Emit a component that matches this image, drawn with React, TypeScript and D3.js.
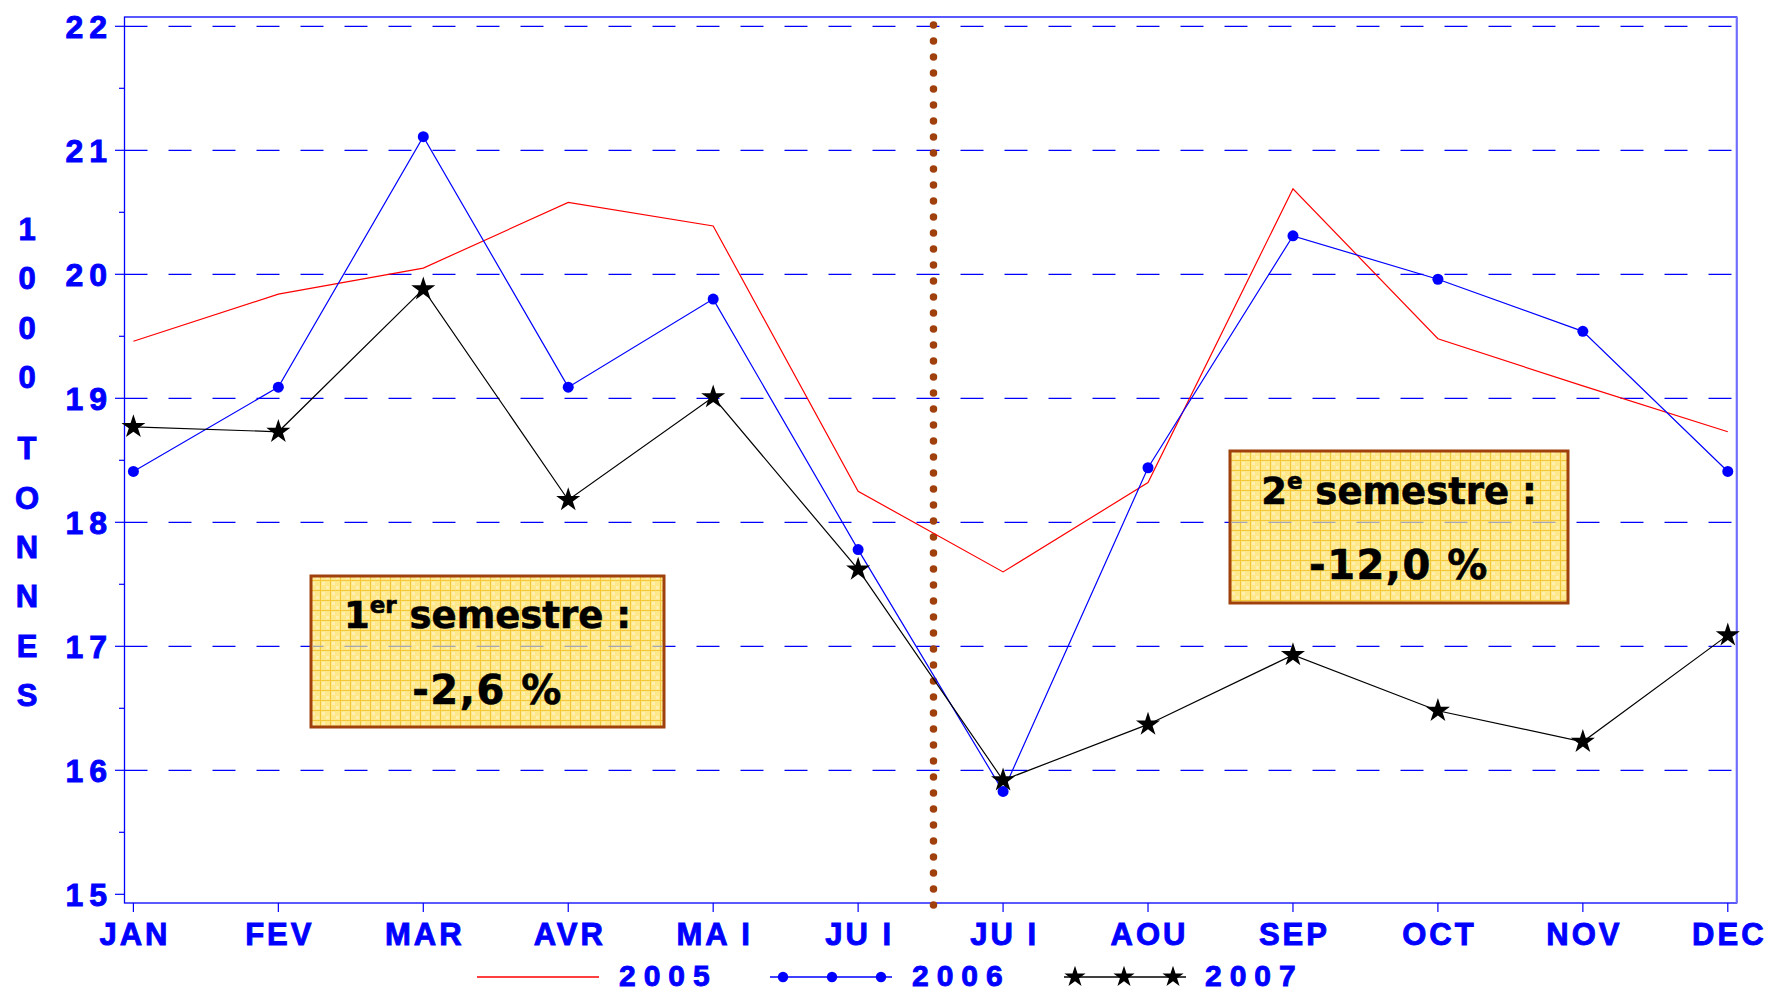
import React from 'react';
import * as d3 from 'd3';

const months = ['JAN', 'FEV', 'MAR', 'AVR', 'MAI', 'JUI', 'JUI', 'AOU', 'SEP', 'OCT', 'NOV', 'DEC'];
const v2005 = [19.46, 19.84, 20.05, 20.58, 20.39, 18.25, 17.6, 18.32, 20.69, 19.48, 19.1, 18.73];
const v2006 = [18.41, 19.09, 21.11, 19.09, 19.8, 17.78, 15.83, 18.44, 20.31, 19.96, 19.54, 18.41];
const v2007 = [18.77, 18.73, 19.88, 18.18, 19.01, 17.62, 15.92, 16.37, 16.93, 16.48, 16.23, 17.09];
const yTicks = [15, 16, 17, 18, 19, 20, 21, 22];
const gridValues = [16, 17, 18, 19, 20, 21, 22];
const yTitleChars = ['1', '0', '0', '0', 'T', 'O', 'N', 'N', 'E', 'S'];
const legendLabels = ['2005', '2006', '2007'];
const noteTitles = [
  { num: '1', sup: 'er', rest: 'semestre :' },
  { num: '2', sup: 'e', rest: 'semestre :' },
];
const noteValues = ['-2,6 %', '-12,0 %'];

const BLUE = '#0000FF';
const BROWN = '#A0400C';

export default function App() {
  const W = 1767;
  const H = 993;
  const left = 124.5;
  const right = 1736.7;
  const top = 17;
  const bottom = 903;

  const x = d3.scaleLinear().domain([0, months.length - 1]).range([133.4, 1727.8]);
  const y = d3.scaleLinear().domain([15, 22]).range([894.3, 26.3]);

  const line = d3
    .line<number>()
    .x((_, i) => x(i))
    .y((d) => y(d));

  const star = d3.symbol().type(d3.symbolStar).size(180)();
  const starLegend = d3.symbol().type(d3.symbolStar).size(140)();

  const minorTicks = d3.range(15.5, 22, 1);
  const dividerX = x(5.52);

  const boxes = [
    { x0: 311, x1: 664, y0: 576, y1: 727, b1: 628, b2: 704 },
    { x0: 1230, x1: 1568, y0: 451, y1: 603, b1: 504, b2: 579 },
  ];

  const axisFont = "'Liberation Sans', Arial, sans-serif";
  const noteFont = "'DejaVu Sans', sans-serif";
  const heavy = { stroke: BLUE, strokeWidth: 0.9 };

  return (
    <svg
      width={W}
      height={H}
      style={{ position: 'absolute', left: 0, top: 0, background: '#fff' }}
      xmlns="http://www.w3.org/2000/svg"
    >
      <defs>
        <pattern id="paper" width="10" height="10" patternUnits="userSpaceOnUse">
          <rect width="10" height="10" fill="#FFE889" />
          <rect x="2" y="2" width="3" height="3" fill="#FFF0B0" />
          <rect x="6" y="6" width="3" height="3" fill="#FFF0B0" />
          <path d="M0 0.5H10M0.5 0V10" stroke="#F2C83A" strokeWidth="1" />
        </pattern>
      </defs>

      {/* grid */}
      {gridValues.map((v) => (
        <line
          key={'g' + v}
          x1={left}
          x2={right}
          y1={y(v)}
          y2={y(v)}
          stroke={BLUE}
          strokeWidth={1.2}
          strokeDasharray="23 21"
        />
      ))}

      {/* frame */}
      <rect x={left} y={top} width={right - left} height={bottom - top} fill="none" stroke={BLUE} strokeWidth={1.3} />
      <line x1={right} x2={right} y1={top} y2={bottom} stroke="#6f6fff" strokeWidth={2} />

      {/* y ticks */}
      {yTicks.map((v) => (
        <g key={'yt' + v}>
          <line x1={115} x2={left} y1={y(v)} y2={y(v)} stroke={BLUE} strokeWidth={1.2} />
          <text
            x={113}
            y={y(v) + 11.5}
            textAnchor="end"
            fontFamily={axisFont}
            fontWeight="bold"
            fontSize={32}
            letterSpacing={6}
            fill={BLUE}
            {...heavy}
          >
            {String(v)}
          </text>
        </g>
      ))}
      {minorTicks.map((v) => (
        <line key={'ym' + v} x1={119} x2={left} y1={y(v)} y2={y(v)} stroke={BLUE} strokeWidth={1.2} />
      ))}

      {/* y title */}
      {yTitleChars.map((c, i) => (
        <text
          key={'yc' + i}
          x={27}
          y={229 + i * 49.4 + (i >= 4 ? 21.5 : 0) + 11}
          textAnchor="middle"
          fontFamily={axisFont}
          fontWeight="bold"
          fontSize={31}
          fill={BLUE}
          {...heavy}
        >
          {c}
        </text>
      ))}

      {/* x ticks */}
      {months.map((m, i) => (
        <g key={'xt' + i}>
          <line x1={x(i)} x2={x(i)} y1={bottom} y2={bottom + 9} stroke={BLUE} strokeWidth={1.2} />
          <text
            x={x(i) + 1.5}
            y={945}
            textAnchor="middle"
            fontFamily={axisFont}
            fontWeight="bold"
            fontSize={31}
            letterSpacing={3}
            fill={BLUE}
            {...heavy}
          >
            {m === 'MAI' ? 'MA I' : m === 'JUI' ? 'JU I' : m}
          </text>
        </g>
      ))}

      {/* divider */}
      <line
        x1={dividerX}
        x2={dividerX}
        y1={25}
        y2={bottom + 4}
        stroke={BROWN}
        strokeWidth={7.5}
        strokeLinecap="round"
        strokeDasharray="0 16"
      />

      {/* series */}
      <path d={line(v2005) || ''} fill="none" stroke="#FF0000" strokeWidth={1.2} />
      <path d={line(v2006) || ''} fill="none" stroke={BLUE} strokeWidth={1.2} />
      <path d={line(v2007) || ''} fill="none" stroke="#000" strokeWidth={1.2} />
      {v2006.map((v, i) => (
        <circle key={'d' + i} cx={x(i)} cy={y(v)} r={5.5} fill={BLUE} />
      ))}
      {v2007.map((v, i) => (
        <path key={'s' + i} d={star || ''} transform={`translate(${x(i)},${y(v)})`} fill="#000" />
      ))}

      {/* notes */}
      {boxes.map((b, k) => (
        <g key={'box' + k}>
          <rect x={b.x0} y={b.y0} width={b.x1 - b.x0} height={b.y1 - b.y0} fill="url(#paper)" stroke={BROWN} strokeWidth={3} />
          {gridValues
            .filter((v) => y(v) > b.y0 + 2 && y(v) < b.y1 - 2)
            .map((v) => (
              <line
                key={'bg' + v}
                x1={b.x0 + 1.5}
                x2={b.x1 - 1.5}
                y1={y(v)}
                y2={y(v)}
                stroke="#A5A5B5"
                strokeWidth={1.2}
                strokeDasharray="23 21"
                strokeDashoffset={b.x0 + 1.5 - left}
              />
            ))}
          <text
            x={(b.x0 + b.x1) / 2}
            y={b.b1}
            textAnchor="middle"
            fontFamily={noteFont}
            fontWeight="bold"
            fontSize={37}
            fill="#000"
            stroke="#000"
            strokeWidth={0.6}
            style={{ whiteSpace: 'pre' }}
          >
            <tspan>{noteTitles[k].num}</tspan>
            <tspan fontSize={23} dy={-15}>
              {noteTitles[k].sup}
            </tspan>
            <tspan dy={15}>{' ' + noteTitles[k].rest}</tspan>
          </text>
          <text
            x={(b.x0 + b.x1) / 2}
            y={b.b2}
            textAnchor="middle"
            fontFamily={noteFont}
            fontWeight="bold"
            fontSize={40}
            letterSpacing={1.5}
            fill="#000"
            stroke="#000"
            strokeWidth={0.6}
            style={{ whiteSpace: 'pre' }}
          >
            {noteValues[k]}
          </text>
        </g>
      ))}

      {/* legend */}
      <g>
        <line x1={477} x2={599} y1={977} y2={977} stroke="#FF0000" strokeWidth={1.5} />
        <line x1={770} x2={892} y1={977} y2={977} stroke={BLUE} strokeWidth={1.5} />
        {[783, 832, 881].map((cx) => (
          <circle key={'lc' + cx} cx={cx} cy={977} r={5.2} fill={BLUE} />
        ))}
        <line x1={1064} x2={1186} y1={977} y2={977} stroke="#000" strokeWidth={1.5} />
        {[1075, 1124, 1173].map((cx) => (
          <path key={'ls' + cx} d={starLegend || ''} transform={`translate(${cx},${977})`} fill="#000" />
        ))}
        {legendLabels.map((t, i) => (
          <text
            key={'lt' + t}
            x={[619, 912, 1205][i]}
            y={986}
            fontFamily={axisFont}
            fontWeight="bold"
            fontSize={30}
            letterSpacing={8}
            fill={BLUE}
            {...heavy}
          >
            {t}
          </text>
        ))}
      </g>
    </svg>
  );
}
